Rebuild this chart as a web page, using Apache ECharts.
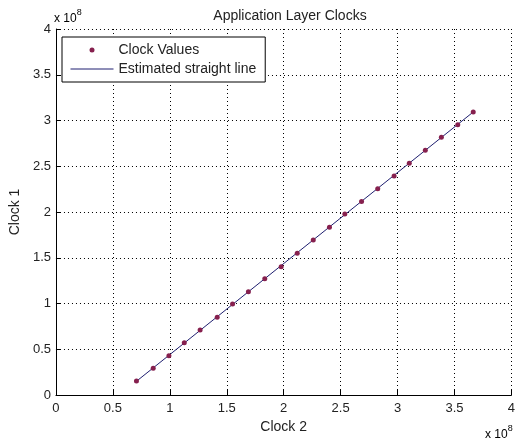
<!DOCTYPE html>
<html lang="en">
    <head>
        <meta charset="UTF-8">
        <script type="text/javascript" src="https://cdn.jsdelivr.net/npm/echarts@6/dist/echarts.min.js"></script>
        <title>Application Layer Clocks</title>
        <style>
            html, body { margin: 0; padding: 0; background: #fff; }
        </style>
    </head>
    <body>
        <div id="main" style="width: 518px; height: 439px;"></div>
    </body>
    <script>
        // values in units of 1e8
        var clock2 = [0.707, 0.854, 0.992, 1.127, 1.266, 1.416, 1.551, 1.690, 1.834, 1.978, 2.119,
                      2.260, 2.402, 2.537, 2.684, 2.826, 2.970, 3.103, 3.244, 3.385, 3.529, 3.665];
        var clock1 = [0.153, 0.292, 0.430, 0.572, 0.710, 0.849, 0.995, 1.129, 1.271, 1.402, 1.548,
                      1.694, 1.833, 1.978, 2.116, 2.255, 2.393, 2.532, 2.674, 2.816, 2.954, 3.093];
        // end points of the fitted line
        var fitX = [0.707, 3.665];
        var fitY = [0.150, 3.093];
        var ticks = [0, 0.5, 1, 1.5, 2, 2.5, 3, 3.5, 4];

        var font = "'Liberation Sans', Arial, sans-serif";
        var textColor = "#222";

        var myCharts = echarts.init(document.getElementById("main"));

        var option = {
            animation: false,
            backgroundColor: "#fff",
            title: {
                text: "Application Layer Clocks",
                left: 285,
                textAlign: "center",
                top: 4,
                textStyle: { fontFamily: font, fontSize: 14, fontWeight: "normal", color: textColor }
            },
            grid: { left: 54, right: 1, top: 29, bottom: 44 },
            legend: {
                orient: "vertical",
                left: 62,
                top: 37,
                padding: [6, 9, 6, 8],
                itemWidth: 43,
                itemHeight: 5,
                itemGap: 5,
                itemTextGap: 4,
                backgroundColor: "#fff",
                borderColor: "#000",
                borderWidth: 1,
                borderRadius: 0,
                textStyle: { fontFamily: font, fontSize: 14, color: textColor, lineHeight: 14 },
                data: [
                    { name: "Clock Values", icon: "circle" },
                    { name: "Estimated straight line", itemStyle: { opacity: 0 }, lineStyle: { width: 1 } }
                ]
            },
            xAxis: {
                type: "value",
                min: ticks[0],
                max: ticks[ticks.length - 1],
                interval: 0.5,
                name: "Clock 2",
                nameLocation: "middle",
                nameGap: 22,
                nameTextStyle: { fontFamily: font, fontSize: 14, color: textColor },
                axisLine: { lineStyle: { color: "#000", width: 1 } },
                axisTick: { inside: true, length: 5, lineStyle: { color: "#000" } },
                axisLabel: { fontFamily: font, fontSize: 13, color: textColor, margin: 7, showMaxLabel: true },
                splitLine: { show: true, lineStyle: { color: "#000", width: 1, type: [1, 3] } }
            },
            yAxis: {
                type: "value",
                min: ticks[0],
                max: ticks[ticks.length - 1],
                interval: 0.5,
                name: "Clock 1",
                nameLocation: "middle",
                nameGap: 31,
                nameTextStyle: { fontFamily: font, fontSize: 14, color: textColor },
                axisLine: { show: true, lineStyle: { color: "#000", width: 1 } },
                axisTick: { show: true, inside: true, length: 5, lineStyle: { color: "#000" } },
                axisLabel: { fontFamily: font, fontSize: 13, color: textColor, margin: 5 },
                splitLine: { show: true, lineStyle: { color: "#000", width: 1, type: [1, 3] } }
            },
            graphic: [
                {
                    type: "text",
                    left: 54,
                    top: 8,
                    style: {
                        text: "{a|x 10}{b|8}",
                        rich: {
                            a: { fontFamily: font, fontSize: 12, color: textColor, verticalAlign: "bottom" },
                            b: { fontFamily: font, fontSize: 9, color: textColor, verticalAlign: "top", padding: [0, 0, 8, 0] }
                        }
                    }
                },
                {
                    type: "text",
                    left: 485,
                    top: 424,
                    style: {
                        text: "{a|x 10}{b|8}",
                        rich: {
                            a: { fontFamily: font, fontSize: 12, color: textColor, verticalAlign: "bottom" },
                            b: { fontFamily: font, fontSize: 9, color: textColor, verticalAlign: "top", padding: [0, 0, 8, 0] }
                        }
                    }
                }
            ],
            series: [
                {
                    name: "Estimated straight line",
                    type: "line",
                    data: fitX.map(function (x, i) { return [x, fitY[i]]; }),
                    showSymbol: false,
                    symbol: "none",
                    lineStyle: { color: "#1f1f70", width: 1 },
                    itemStyle: { color: "#1f1f70" },
                    z: 2
                },
                {
                    name: "Clock Values",
                    type: "scatter",
                    data: clock2.map(function (x, i) { return [x, clock1[i]]; }),
                    symbol: "circle",
                    symbolSize: 5,
                    itemStyle: { color: "#86204e", opacity: 1 },
                    z: 3
                }
            ]
        };
        myCharts.setOption(option);
    </script>
</html>
